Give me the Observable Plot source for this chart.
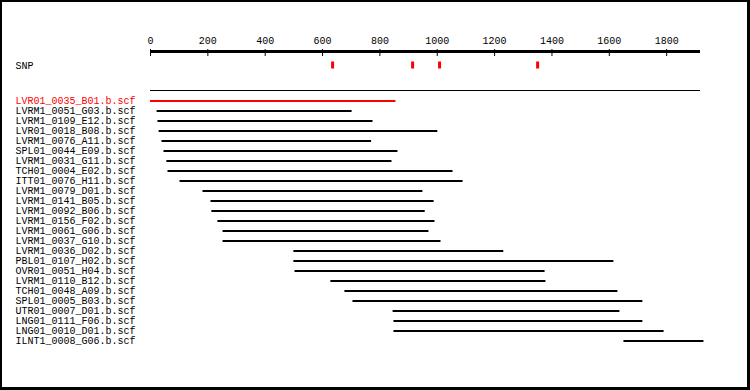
<!DOCTYPE html>
<html><head><meta charset="utf-8">
<script src="https://cdn.jsdelivr.net/npm/d3@7"></script>
<script src="https://cdn.jsdelivr.net/npm/@observablehq/plot@0.6"></script>
<style>
html,body{margin:0;padding:0;background:#fff}
#wrap{position:relative;width:750px;height:390px;overflow:hidden;background:#fff}
#border{position:absolute;left:0;top:0;width:750px;height:390px;box-sizing:border-box;border-style:solid;border-color:#000;border-width:2px 3px 3px 2px;pointer-events:none}
</style></head><body><div id="wrap"><div id="border"></div></div>
<script>
const reads = [
  "LVR01_0035_B01.b.scf","LVRM1_0051_G03.b.scf","LVRM1_0109_E12.b.scf","LVR01_0018_B08.b.scf",
  "LVRM1_0076_A11.b.scf","SPL01_0044_E09.b.scf","LVRM1_0031_G11.b.scf","TCH01_0004_E02.b.scf",
  "ITT01_0076_H11.b.scf","LVRM1_0079_D01.b.scf","LVRM1_0141_B05.b.scf","LVRM1_0092_B06.b.scf",
  "LVRM1_0156_F02.b.scf","LVRM1_0061_G06.b.scf","LVRM1_0037_G10.b.scf","LVRM1_0036_D02.b.scf",
  "PBL01_0107_H02.b.scf","OVR01_0051_H04.b.scf","LVRM1_0110_B12.b.scf","TCH01_0048_A09.b.scf",
  "SPL01_0005_B03.b.scf","UTR01_0007_D01.b.scf","LNG01_0111_F06.b.scf","LNG01_0010_D01.b.scf",
  "ILNT1_0008_G06.b.scf"
];
const starts = [0,23,26,30,40,47,57,61,103,183,211,214,235,253,253,500,500,504,629,678,706,846,849,849,1651];
const ends   = [856,703,776,1002,771,863,842,1055,1090,950,989,958,992,971,1013,1232,1616,1376,1379,1630,1717,1637,1717,1791,1930];
const snpPositions = [635, 914, 1008, 1350];
const xTicks = [0, 200, 400, 600, 800, 1000, 1200, 1400, 1600, 1800];
const xMax = 1918;
const highlight = "LVR01_0035_B01.b.scf";

const rows = reads.map((name, i) => ({name, i, start: starts[i], end: ends[i], color: name === highlight ? "red" : "black"}));
// convert a pixel offset to row units of the linear y scale (rows start at 100.5px, 10px apart)
const rowY = px => (px - 100.5) / 10;

const chart = Plot.plot({
  width: 750,
  height: 390,
  marginTop: 55, marginLeft: 0, marginRight: 0, marginBottom: 0,
  style: {fontFamily: "'Liberation Mono', 'DejaVu Sans Mono', monospace", fontSize: "10px", background: "#fff", color: "#000"},
  x: {domain: [0, xMax], range: [150, 700]},
  y: {type: "linear", domain: [0, reads.length - 1], range: [100.5, 340.5], axis: null},
  color: {type: "identity"},
  marks: [
    Plot.axisX({anchor: "top", ticks: xTicks, tickSize: 7, tickPadding: 5, tickFormat: d => String(d), label: null}),
    Plot.ruleY([rowY(51)], {x1: 0, x2: xMax, stroke: "black", strokeWidth: 3}),
    Plot.text(["SNP"], {frameAnchor: "left", dx: 15, y: rowY(65.5), text: d => d, textAnchor: "start", fill: "black"}),
    Plot.ruleX(snpPositions, {x: d => d, y1: rowY(61.5), y2: rowY(68.5), stroke: "red", strokeWidth: 3}),
    Plot.ruleY([rowY(90)], {x1: 0, x2: xMax, stroke: "black", strokeWidth: 1}),
    Plot.ruleY(rows, {y: "i", x1: "start", x2: "end", stroke: "color", strokeWidth: 2}),
    Plot.text(rows, {y: "i", text: "name", frameAnchor: "left", dx: 15, dy: -0.5, textAnchor: "start", fill: "color"})
  ]
});
document.getElementById("wrap").prepend(chart);
</script>
</body></html>
